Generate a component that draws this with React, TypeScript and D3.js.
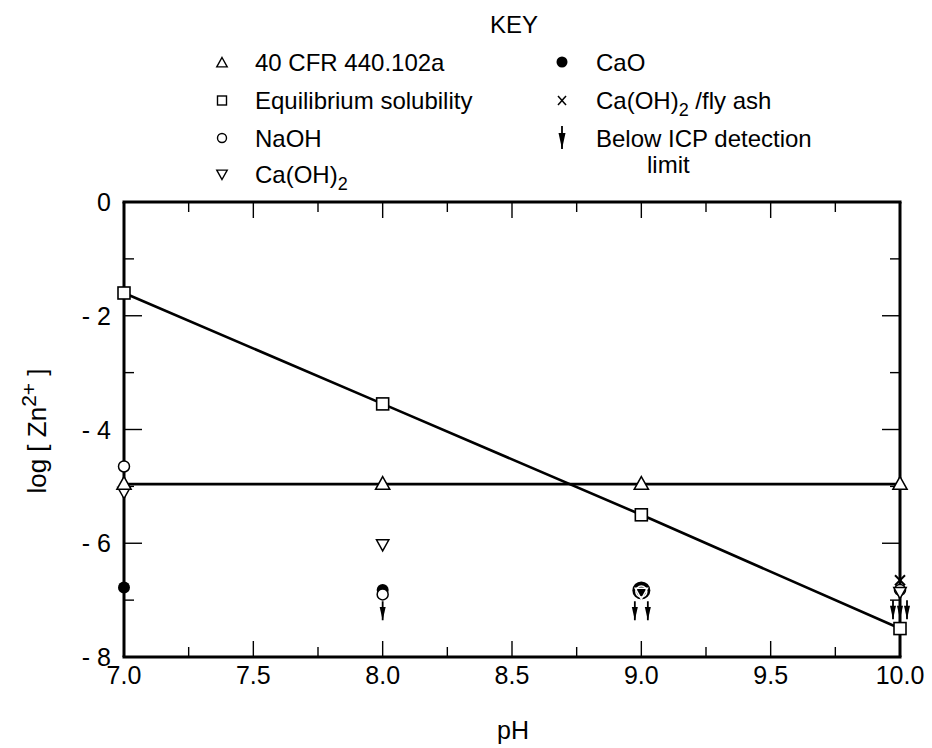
import React from "react";
import * as d3 from "d3";

const pH = [7, 8, 9, 10];
const cfrValues = [-4.96, -4.96, -4.96, -4.96];
const equilValues = [-1.6, -3.55, -5.5, -7.5];
const naohPH = [7, 8, 9, 10];
const naohValues = [-4.65, -6.9, -6.85, -6.82];
const caoh2PH = [7, 8, 9, 10];
const caoh2Values = [-5.1, -6.02, -6.87, -6.86];
const caoPH = [7, 8, 9];
const caoValues = [-6.78, -6.82, -6.83];
const flyAshPH = [10];
const flyAshValues = [-6.65];
const belowPH = [8, 9, 10];
const belowCounts = [1, 2, 3];
const belowTop = [-7.02, -7.02, -7.0];
const xTicks = [7.0, 7.5, 8.0, 8.5, 9.0, 9.5, 10.0];
const xMinor = [7.25, 7.75, 8.25, 8.75, 9.25, 9.75];
const yTicks = [0, -2, -4, -6, -8];
const yMinor = [-1, -3, -5, -7];

const FONT = "'Liberation Sans', Arial, sans-serif";

function Arrow({ x, y, len = 20, w = 7 }: { x: number; y: number; len?: number; w?: number }) {
  return (
    <g>
      <line x1={x} y1={y} x2={x} y2={y + len} stroke="#000" strokeWidth={1.8} />
      <path d={`M${x - w / 2},${y + len * 0.3} L${x + w / 2},${y + len * 0.3} L${x},${y + len} Z`} fill="#000" />
    </g>
  );
}

const triUp = (x: number, y: number, s = 7) =>
  `M${x},${y - s} L${x + s * 0.95},${y + s * 0.7} L${x - s * 0.95},${y + s * 0.7} Z`;
const triDown = (x: number, y: number, s = 7) =>
  `M${x},${y + s} L${x + s * 0.95},${y - s * 0.7} L${x - s * 0.95},${y - s * 0.7} Z`;

export default function App() {
  const W = 932;
  const H = 748;
  const x = d3.scaleLinear().domain([7, 10]).range([124, 900]);
  const y = d3.scaleLinear().domain([0, -8]).range([202, 657]);
  const line = d3
    .line<number>()
    .x((_, i) => x(pH[i]))
    .y((d) => y(d));

  const x0 = x(7), x1 = x(10), y0 = y(0), y1 = y(-8);

  return (
    <svg width={W} height={H} style={{ position: "absolute", left: 0, top: 0, background: "#fff" }}>
      <rect width={W} height={H} fill="#fff" />
      {/* Legend */}
      <g fontFamily={FONT} fontSize={24} fill="#000">
        <text x={514} y={33} textAnchor="middle">KEY</text>
        <path d={triUp(222, 63, 5.5)} fill="none" stroke="#000" strokeWidth={1.4} />
        <text x={255} y={71}>40 CFR 440.102a</text>
        <rect x={217.5} y={96} width={9} height={9} fill="none" stroke="#000" strokeWidth={1.4} />
        <text x={255} y={109}>Equilibrium solubility</text>
        <circle cx={222} cy={138} r={4.5} fill="none" stroke="#000" strokeWidth={1.4} />
        <text x={255} y={147}>NaOH</text>
        <path d={triDown(222, 174, 5.5)} fill="none" stroke="#000" strokeWidth={1.4} />
        <text x={255} y={183}>Ca(OH)<tspan dy={7} fontSize={18}>2</tspan></text>
        <circle cx={562} cy={62} r={5.5} fill="#000" />
        <text x={596} y={71}>CaO</text>
        <g stroke="#000" strokeWidth={1.5}>
          <line x1={558} y1={96} x2={566} y2={105} />
          <line x1={566} y1={96} x2={558} y2={105} />
        </g>
        <text x={596} y={109}>Ca(OH)<tspan dy={7} fontSize={18}>2</tspan><tspan dy={-7}> /fly ash</tspan></text>
        <Arrow x={562} y={126} len={23} w={7} />
        <text x={596} y={147}>Below ICP detection</text>
        <text x={647} y={173}>limit</text>
      </g>

      {/* Frame */}
      <g stroke="#000" strokeWidth={3} fill="none">
        <line x1={x0 - 1.5} y1={y0} x2={x1 + 1.5} y2={y0} />
        <line x1={x0 - 1.5} y1={y1} x2={x1 + 1.5} y2={y1} />
        <line x1={x0} y1={y0} x2={x0} y2={y1} />
        <line x1={x1} y1={y0} x2={x1} y2={y1} />
      </g>
      {/* Ticks */}
      <g stroke="#000" strokeWidth={1.4}>
        {xTicks.map((t) => (
          <g key={`xt${t}`}>
            <line x1={x(t)} y1={y1} x2={x(t)} y2={y1 - 16} />
            <line x1={x(t)} y1={y0} x2={x(t)} y2={y0 + 16} />
          </g>
        ))}
        {xMinor.map((t) => (
          <g key={`xm${t}`}>
            <line x1={x(t)} y1={y1} x2={x(t)} y2={y1 - 10} />
            <line x1={x(t)} y1={y0} x2={x(t)} y2={y0 + 10} />
          </g>
        ))}
        {yTicks.map((t) => (
          <g key={`yt${t}`}>
            <line x1={x0} y1={y(t)} x2={x0 + 18} y2={y(t)} />
            <line x1={x1} y1={y(t)} x2={x1 - 18} y2={y(t)} />
          </g>
        ))}
        {yMinor.map((t) => (
          <g key={`ym${t}`}>
            <line x1={x0} y1={y(t)} x2={x0 + 10} y2={y(t)} />
            <line x1={x1} y1={y(t)} x2={x1 - 10} y2={y(t)} />
          </g>
        ))}
      </g>
      {/* Tick labels */}
      <g fontFamily={FONT} fontSize={25} fill="#000">
        {xTicks.map((t) => (
          <text key={`xl${t}`} x={x(t)} y={y1 + 27} textAnchor="middle">
            {t.toFixed(1)}
          </text>
        ))}
        {yTicks.map((t) => (
          <text key={`yl${t}`} x={111} y={y(t) + 9} textAnchor="end">
            {t === 0 ? "0" : `- ${Math.abs(t)}`}
          </text>
        ))}
        <text x={513} y={739} textAnchor="middle">pH</text>
        <text transform={`translate(46,431) rotate(-90)`} textAnchor="middle" fontSize={26}>
          log  [ Zn<tspan dy={-10} fontSize={21}>2+</tspan><tspan dy={10}> ]</tspan>
        </text>
      </g>

      {/* Lines */}
      <path d={line(cfrValues) || ""} fill="none" stroke="#000" strokeWidth={2.6} />
      <path d={line(equilValues) || ""} fill="none" stroke="#000" strokeWidth={2.6} />

      {/* Markers */}
      {caoPH.map((p, i) => (
        <circle key={`cao${i}`} cx={x(p)} cy={y(caoValues[i])} r={p === 9 ? 9 : 6} fill="#000" />
      ))}
      {naohPH.map((p, i) => (
        <circle key={`na${i}`} cx={x(p)} cy={y(naohValues[i])} r={5.5} fill={p === 9 ? "none" : "#fff"} stroke={p === 9 ? "#fff" : "#000"} strokeWidth={1.5} />
      ))}
      {caoh2PH.map((p, i) => (
        <path key={`ca${i}`} d={triDown(x(p), y(caoh2Values[i]), 6.5)} fill={p === 9 ? "none" : "#fff"} stroke={p === 9 ? "#fff" : "#000"} strokeWidth={1.5} />
      ))}
      {pH.map((p, i) => (
        <path key={`cfr${i}`} d={triUp(x(p), y(cfrValues[i]), 7.5)} fill="#fff" stroke="#000" strokeWidth={1.5} />
      ))}
      {pH.map((p, i) => (
        <rect key={`eq${i}`} x={x(p) - 6} y={y(equilValues[i]) - 6} width={12} height={12} fill="#fff" stroke="#000" strokeWidth={1.6} />
      ))}
      {flyAshPH.map((p, i) => (
        <g key={`fa${i}`} stroke="#000" strokeWidth={2}>
          <line x1={x(p) - 5} y1={y(flyAshValues[i]) - 5} x2={x(p) + 5} y2={y(flyAshValues[i]) + 5} />
          <line x1={x(p) + 5} y1={y(flyAshValues[i]) - 5} x2={x(p) - 5} y2={y(flyAshValues[i]) + 5} />
        </g>
      ))}
      {belowPH.map((p, i) =>
        d3.range(belowCounts[i]).map((k) => {
          const n = belowCounts[i];
          const off = (k - (n - 1) / 2) * (n === 2 ? 13 : 7);
          return <Arrow key={`ar${i}-${k}`} x={x(p) + off} y={y(belowTop[i])} len={19} w={6} />;
        })
      )}
    </svg>
  );
}
